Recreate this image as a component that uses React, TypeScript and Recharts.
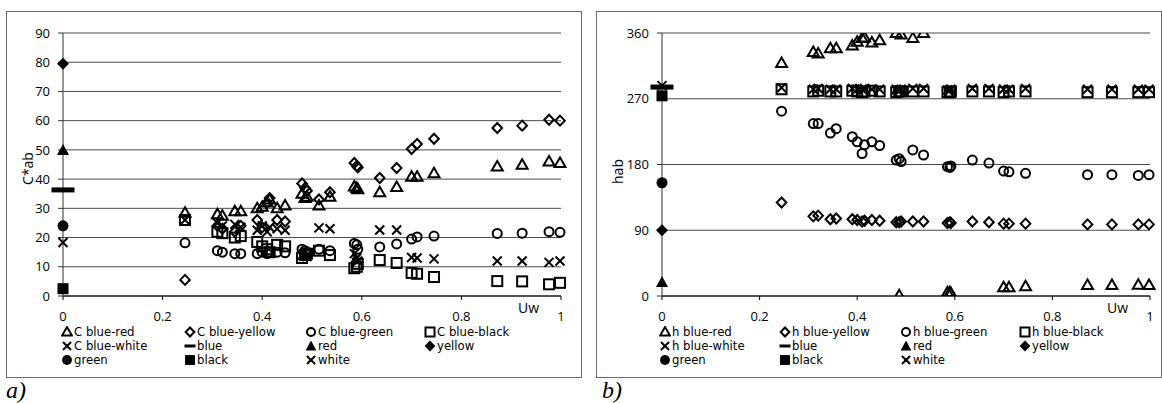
import React from "react";
import { ScatterChart, Scatter, XAxis, YAxis, CartesianGrid } from "recharts";

// water content of the samples (shared by all mixture series)
const uw = [
  0.245, 0.31, 0.32, 0.345, 0.357, 0.39, 0.4, 0.41, 0.415, 0.43, 0.446, 0.48, 0.486, 0.49,
  0.514, 0.536, 0.585, 0.59, 0.592, 0.636, 0.67, 0.7, 0.711, 0.745, 0.872, 0.922, 0.976, 0.998,
];

// a) chroma C*ab
const cBlueRed = [
  28.5, 28, 27.5, 29, 29, 30, 30.5, 32, 33, 30, 31, 35, 33.5, 34,
  31, 34, 37.5, 37, 36.5, 35.5, 37.3, 40.8, 40.8, 42, 44.3, 44.9, 46, 45.5,
];
const cBlueYellow = [
  5.5, 24, 23, 22, 24, 26, 23.5, 32, 33.5, 26, 25.5, 38.5, 37, 36,
  33, 35.5, 45.5, 44.5, 44, 40.4, 43.8, 50.3, 52, 53.8, 57.5, 58.3, 60.3, 60,
];
const cBlueGreen = [
  18.2, 15.5, 15, 14.5, 14.5, 14.5, 15, 14.5, 15, 15, 14.8, 16, 15.5, 15,
  16, 15.5, 18, 17.5, 16, 16.8, 17.8, 19.5, 20.2, 20.5, 21.4, 21.5, 22, 21.8,
];
const cBlueBlack = [
  26, 22, 21.5, 20, 20.5, 18.5, 17, 16, 15, 17.5, 17, 13, 14, 14.5,
  15.5, 14, 9.5, 10, 11, 12.3, 11.3, 7.9, 7.6, 6.5, 5.1, 5, 4, 4.5,
];
const cBlueWhite = [
  26, 25, 24, 24.5, 23.5, 22.5, 24, 22, 23.5, 23, 22.5, 14, 15, 13.5,
  23.3, 23, 14.5, 13, 12, 22.6, 22.6, 13.2, 13, 12.7, 12, 12, 11.5, 12,
];

// b) hue angle hab
const hBlueRed = [
  319, 334, 332, 339, 339, 343, 348, 353, 354, 347, 350, 360, 1, 358,
  353, 360, 5, 5, 4, null, null, 12, 12, 13.5, 15, 15, 15.5, 15,
];
const hBlueYellow = [
  128, 109, 110, 105, 106, 105, 104, 102, 103, 104, 103, 101, 101, 102,
  102, 102, 100, 101, 100, 102, 101, 99, 99, 99, 98, 98, 98, 98,
];
const hBlueGreen = [
  253, 236, 236, 223, 229, 218, 211, 195, 207, 211, 206, 186, 188, 184,
  200, 193, 177, 176, 178, 186, 182, 171, 170, 168, 166, 166, 165, 166,
];
const hBlueBlack = [
  283, 280, 281, 280, 280, 281, 280, 279, 280, 281, 280, 279, 280, 280,
  280, 280, 279, 279, 280, 280, 280, 279, 280, 280, 279, 279, 279, 279,
];
const hBlueWhite = [
  285, 283, 284, 283, 283, 284, 283, 283, 284, 283, 283, 283, 282, 283,
  284, 284, 282, 282, 283, 284, 284, 283, 283, 284, 283, 283, 283, 283,
];

// pure pigments at Uw = 0
const pureNames = ["blue", "red", "yellow", "green", "black", "white"];
const pureC = [36.3, 50, 79.5, 24, 2.5, 18.3];
const pureH = [286, 19, 90, 155, 274, 288];

const mixNames = ["blue-red", "blue-yellow", "blue-green", "blue-black", "blue-white"];
const xTicks = [0, 0.2, 0.4, 0.6, 0.8, 1];
const cTicks = [0, 10, 20, 30, 40, 50, 60, 70, 80, 90];
const hTicks = [0, 90, 180, 270, 360];

const FONT = "'Open Sans', sans-serif";

type Kind = "tri" | "dia" | "circ" | "sq" | "x" | "dash" | "triF" | "diaF" | "circF" | "sqF";
const mixKinds: Kind[] = ["tri", "dia", "circ", "sq", "x"];
const pureKinds: Kind[] = ["dash", "triF", "diaF", "circF", "sqF", "x"];

function Marker({ kind, cx, cy, legend }: { kind: Kind; cx: number; cy: number; legend?: boolean }) {
  const k = legend ? 0.9 : 1;
  const line = { fill: "none", stroke: "#000", strokeWidth: 2 };
  switch (kind) {
    case "tri":
      return (
        <polygon
          points={`${cx},${cy - 5.5 * k} ${cx + 5.5 * k},${cy + 4 * k} ${cx - 5.5 * k},${cy + 4 * k}`}
          {...line}
        />
      );
    case "dia":
      return (
        <polygon
          points={`${cx},${cy - 5 * k} ${cx + 4.8 * k},${cy} ${cx},${cy + 5 * k} ${cx - 4.8 * k},${cy}`}
          {...line}
        />
      );
    case "circ":
      return <circle cx={cx} cy={cy} r={4.5 * k} {...line} />;
    case "sq":
      return <rect x={cx - 5 * k} y={cy - 5 * k} width={10 * k} height={10 * k} {...line} />;
    case "x":
      return (
        <g stroke="#000" strokeWidth={2}>
          <line x1={cx - 4.5 * k} y1={cy - 4.5 * k} x2={cx + 4.5 * k} y2={cy + 4.5 * k} />
          <line x1={cx - 4.5 * k} y1={cy + 4.5 * k} x2={cx + 4.5 * k} y2={cy - 4.5 * k} />
        </g>
      );
    case "dash":
      return legend ? (
        <rect x={cx - 5.5} y={cy - 1.5} width={11} height={3} fill="#000" />
      ) : (
        <rect x={cx - 11.5} y={cy - 2.5} width={23} height={5} fill="#000" />
      );
    case "triF":
      return (
        <polygon points={`${cx},${cy - 6 * k} ${cx + 6 * k},${cy + 5 * k} ${cx - 6 * k},${cy + 5 * k}`} fill="#000" />
      );
    case "diaF":
      return (
        <polygon
          points={`${cx},${cy - 6 * k} ${cx + 6 * k},${cy} ${cx},${cy + 6 * k} ${cx - 6 * k},${cy}`}
          fill="#000"
        />
      );
    case "circF":
      return <circle cx={cx} cy={cy} r={5.5 * k} fill="#000" />;
    case "sqF":
      return <rect x={cx - 5.5 * k} y={cy - 5.5 * k} width={11 * k} height={11 * k} fill="#000" />;
  }
  return null;
}

interface Series {
  name: string;
  kind: Kind;
  data: { x: number; y: number }[];
}

function buildSeries(prefix: string, mix: (number | null)[][], pure: number[]): Series[] {
  const out: Series[] = mix.map((vals, i) => ({
    name: `${prefix} ${mixNames[i]}`,
    kind: mixKinds[i],
    data: uw
      .map((x, j) => ({ x, y: vals[j] }))
      .filter((p) => p.y !== null) as { x: number; y: number }[],
  }));
  pureNames.forEach((n, i) => out.push({ name: n, kind: pureKinds[i], data: [{ x: 0, y: pure[i] }] }));
  return out;
}

const seriesA = buildSeries("C", [cBlueRed, cBlueYellow, cBlueGreen, cBlueBlack, cBlueWhite], pureC);
const seriesB = buildSeries("h", [hBlueRed, hBlueYellow, hBlueGreen, hBlueBlack, hBlueWhite], pureH);

const FRAME_TOP = 11;
const FRAME_H = 366;

function Panel(props: {
  left: number;
  width: number;
  axisWidth: number;
  right: number;
  domain: [number, number];
  ticks: number[];
  yLabel: string;
  yLabelShift: number;
  series: Series[];
}) {
  const { left, width, axisWidth, right, domain, ticks, yLabel, yLabelShift, series } = props;
  return (
    <div style={{ position: "absolute", left, top: FRAME_TOP }}>
      <ScatterChart width={width} height={FRAME_H} margin={{ top: 22, right, bottom: 51, left: 0 }}>
        <CartesianGrid horizontal vertical={false} stroke="#4a4a4a" strokeWidth={1} />
        <XAxis
          type="number"
          dataKey="x"
          domain={[0, 1]}
          ticks={xTicks}
          tickFormatter={(v) => String(v)}
          height={30}
          tickSize={4}
          tickMargin={12}
          stroke="#000"
          tick={{ fill: "#000", fontSize: 13 }}
          label={(p: any) => (
            <text
              x={p.viewBox.x + p.viewBox.width - 22}
              y={p.viewBox.y + 11}
              textAnchor="end"
              dominantBaseline="central"
              fontSize={14}
              fill="#000"
            >
              Uw
            </text>
          )}
        />
        <YAxis
          type="number"
          dataKey="y"
          domain={domain}
          ticks={ticks}
          allowDataOverflow
          width={axisWidth}
          tickSize={5}
          tickMargin={8}
          stroke="#333"
          tick={{ fill: "#000", fontSize: 13 }}
          label={(p: any) => {
            const x = p.viewBox.x + 21;
            const y = p.viewBox.y + p.viewBox.height / 2 + yLabelShift;
            return (
              <text
                x={x}
                y={y}
                transform={`rotate(-90, ${x}, ${y})`}
                textAnchor="middle"
                dominantBaseline="central"
                fontSize={14}
                fill="#000"
              >
                {yLabel}
              </text>
            );
          }}
        />
        {series.map((s) => (
          <Scatter
            key={s.name}
            name={s.name}
            data={s.data}
            isAnimationActive={false}
            shape={(p: any) => <Marker kind={s.kind} cx={p.cx} cy={p.cy} />}
          />
        ))}
      </ScatterChart>
    </div>
  );
}

function LegendBlock({ cols, series }: { cols: number[]; series: Series[] }) {
  const rows = [332, 346, 360];
  return (
    <>
      {series.map((s, i) => (
        <div
          key={s.name}
          style={{
            position: "absolute",
            left: cols[i % 4],
            top: rows[Math.floor(i / 4)] - 7,
            height: 14,
            display: "flex",
            alignItems: "center",
            whiteSpace: "nowrap",
          }}
        >
          <svg width={12} height={12} style={{ marginRight: 1, flex: "none" }}>
            <Marker kind={s.kind} cx={6} cy={6} legend />
          </svg>
          <span style={{ fontFamily: "'DejaVu Sans', sans-serif", fontSize: 11.7, lineHeight: "14px" }}>
            {s.name}
          </span>
        </div>
      ))}
    </>
  );
}

export default function App() {
  const frame = { position: "absolute" as const, top: FRAME_TOP, height: FRAME_H + 1, border: "1px solid #6a6a6a", boxSizing: "border-box" as const };
  const tag = {
    position: "absolute" as const,
    top: 378,
    fontFamily: "'Liberation Serif', serif",
    fontStyle: "italic",
    fontSize: 24,
    lineHeight: "24px",
  };
  return (
    <div
      style={{
        position: "absolute",
        left: 0,
        top: 0,
        width: 1162,
        height: 403,
        background: "#fff",
        fontFamily: FONT,
        color: "#000",
        overflow: "hidden",
      }}
    >
      <div style={{ ...frame, left: 6, width: 576 }} />
      <div style={{ ...frame, left: 596, width: 566 }} />
      <Panel
        left={6}
        width={575}
        axisWidth={57}
        right={20}
        domain={[0, 90]}
        ticks={cTicks}
        yLabel="C*ab"
        yLabelShift={4}
        series={seriesA}
      />
      <Panel
        left={596}
        width={565}
        axisWidth={66}
        right={11}
        domain={[0, 360]}
        ticks={hTicks}
        yLabel="hab"
        yLabelShift={7}
        series={seriesB}
      />
      <LegendBlock cols={[61, 184, 305, 424]} series={seriesA} />
      <LegendBlock cols={[659, 779, 900, 1019]} series={seriesB} />
      <div style={{ ...tag, left: 6 }}>a)</div>
      <div style={{ ...tag, left: 602 }}>b)</div>
    </div>
  );
}
